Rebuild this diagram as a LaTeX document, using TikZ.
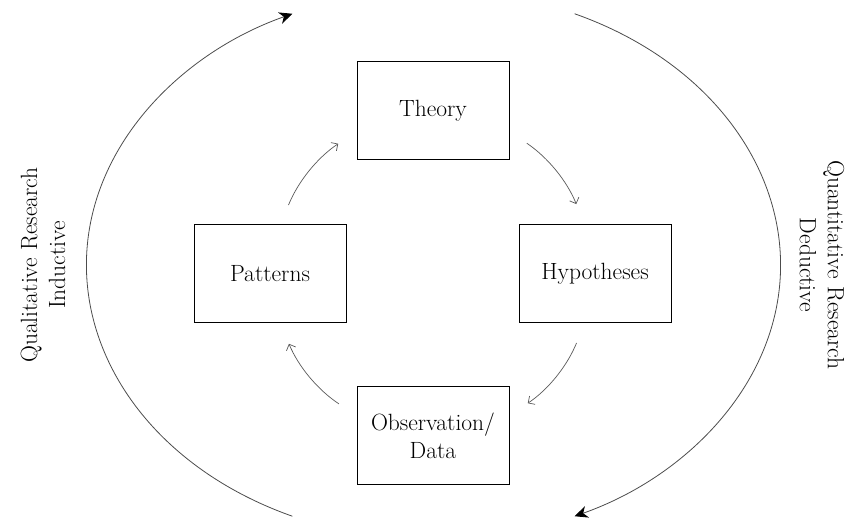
\documentclass[tikz,border=0pt]{standalone}
\usetikzlibrary{arrows.meta}
\begin{document}
\begin{tikzpicture}[x=1pt, y=-1pt,
                    every node/.style={font=\fontsize{23.5}{28}\selectfont},
                    box/.style={rectangle, draw, line width=1pt, minimum width=152pt, minimum height=98pt, align=center, inner sep=2pt},
                    flow/.style={-{Straight Barb[length=5pt,width=10pt]}, draw=black!65, line width=0.7pt, bend left=17, shorten <=21pt, shorten >=22pt},
                    loop/.style={-{Stealth[length=13pt,width=12pt,inset=4pt,black]}, draw=black!70, line width=0.8pt}]
                    \useasboundingbox (0,0) rectangle (855,521);
                    \node[box] (theory) at (433,111) {Theory};
                    \node[box] (patterns) at (270,274) {Patterns};
                    \node[box] (hypo) at (595,274) {Hypotheses};
                    \node[box] (obs) at (433,436) {Observation/\\Data};
                    \draw[flow] (patterns.78) to (theory.195);
                    \draw[flow] (theory.345) to (hypo.102);
                    \draw[flow] (hypo.258) to (obs.15);
                    \draw[flow] (obs.165) to (patterns.282);
                    % outer loops
                    \draw[loop] (433.5,265) ++(246:347pt and 275pt) arc[start angle=246, end angle=114, x radius=347pt, y radius=275pt];
                    \draw[loop] (433.5,265) ++(66:347pt and 275pt) arc[start angle=66, end angle=-66, x radius=347pt, y radius=275pt];
                    \node[rotate=90, align=center] (qual) at (43,265) {Qualitative Research\\Inductive};
                    \node[rotate=-90, align=center] (quan) at (822,265) {Quantitative Research\\Deductive};
                \end{tikzpicture}
\end{document}
